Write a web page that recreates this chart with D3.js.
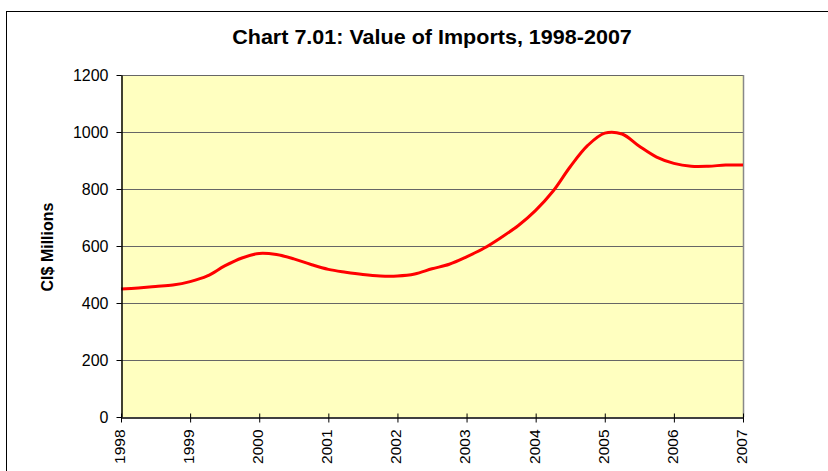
<!DOCTYPE html>
<html>
<head>
<meta charset="utf-8">
<script src="https://cdn.jsdelivr.net/npm/d3@7"></script>
<style>
  body { margin: 0; background: #fff; }
  svg { display: block; font-family: "Liberation Sans", Arial, sans-serif; }
</style>
</head>
<body>
<div id="chart"></div>
<script>
// quarterly values, 1998 Q1 .. 2007 Q1 (CI$ millions)
const quarters = d3.range(0, 37).map(k => 1998 + k / 4);
const imports = [449, 453, 458, 463, 475, 495, 530, 558, 574, 570, 555, 535,
  518, 508, 500, 495, 495, 502, 520, 536, 562, 592, 630, 672,
  725, 792, 878, 952, 996, 993, 950, 912, 890, 880, 880, 884, 884];
const yearTicks = d3.range(1998, 2008);
const valueTicks = [0, 200, 400, 600, 800, 1000, 1200];

const width = 828, height = 471;
const plot = { left: 121, right: 743, top: 75, bottom: 417 };

const svg = d3.select("#chart").append("svg").attr("width", width).attr("height", height);

// outer chart border (runs off the picture on right and bottom)
svg.append("rect")
  .attr("x", 6.5).attr("y", 11.5)
  .attr("width", 900).attr("height", 600)
  .attr("fill", "none").attr("stroke", "#000").attr("stroke-width", 1);

const x = d3.scaleLinear().domain([1998, 2007]).range([plot.left, plot.right]);
const y = d3.scaleLinear().domain([0, 1200]).range([plot.bottom, plot.top]);

// plot area
svg.append("rect")
  .attr("x", plot.left).attr("y", plot.top)
  .attr("width", plot.right - plot.left).attr("height", plot.bottom - plot.top)
  .attr("fill", "#FFFFC0");

// gridlines
svg.append("g")
  .selectAll("line")
  .data(valueTicks.filter(d => d > 0))
  .join("line")
  .attr("x1", plot.left).attr("x2", plot.right)
  .attr("y1", d => Math.round(y(d)) + 0.5).attr("y2", d => Math.round(y(d)) + 0.5)
  .attr("stroke", "#666").attr("stroke-width", 1);

// right border of plot
svg.append("line")
  .attr("x1", plot.right + 0.5).attr("x2", plot.right + 0.5)
  .attr("y1", plot.top).attr("y2", plot.bottom)
  .attr("stroke", "#888").attr("stroke-width", 1.5);

// line
const line = d3.line()
  .x((d, i) => x(quarters[i]))
  .y(d => y(d))
  .curve(d3.curveCatmullRom.alpha(0.5));

svg.append("path")
  .datum(imports)
  .attr("d", line)
  .attr("fill", "none")
  .attr("stroke", "#FF0000")
  .attr("stroke-width", 3)
  .attr("stroke-linejoin", "round");

// y axis
const yAxis = svg.append("g")
  .attr("transform", `translate(${plot.left + 0.5},0)`)
  .call(d3.axisLeft(y).tickValues(valueTicks).tickFormat(d3.format("d"))
    .tickSize(5).tickSizeOuter(0).tickPadding(8));
yAxis.select(".domain").attr("stroke", "#000").attr("stroke-width", 1.5);
yAxis.selectAll(".tick line").attr("stroke", "#000");
yAxis.selectAll("text").attr("font-size", 16).attr("fill", "#000")
  .attr("font-family", "Liberation Sans, Arial, sans-serif");

// x axis
const xAxis = svg.append("g")
  .attr("transform", `translate(0,${plot.bottom + 0.5})`)
  .call(d3.axisBottom(x).tickValues(yearTicks).tickFormat(d3.format("d")).tickSize(5).tickSizeOuter(0));
xAxis.select(".domain").attr("stroke", "#000").attr("stroke-width", 1.5);
xAxis.selectAll(".tick line").attr("stroke", "#000").attr("y1", -4).attr("y2", 5);
xAxis.selectAll("text")
  .attr("font-size", 15.5).attr("fill", "#000")
  .attr("font-family", "Liberation Sans, Arial, sans-serif")
  .attr("transform", "rotate(-90)")
  .attr("x", -12).attr("y", -2).attr("dy", "0.35em")
  .attr("text-anchor", "end");

// title, stretched horizontally to the reference width
const titleG = svg.append("g");
const title = titleG.append("text")
  .attr("x", 0).attr("y", 0)
  .attr("text-anchor", "middle")
  .attr("font-size", 19.5).attr("font-weight", "bold")
  .text("Chart 7.01: Value of Imports, 1998-2007");
const tl = title.node().getComputedTextLength();
titleG.attr("transform", `translate(432,43.5) scale(${400 / tl},1)`);

// y axis title
svg.append("text")
  .attr("transform", `translate(52.5,${247}) rotate(-90)`)
  .attr("text-anchor", "middle")
  .attr("font-size", 16).attr("font-weight", "bold")
  .text("CI$ Millions");
</script>
</body>
</html>
